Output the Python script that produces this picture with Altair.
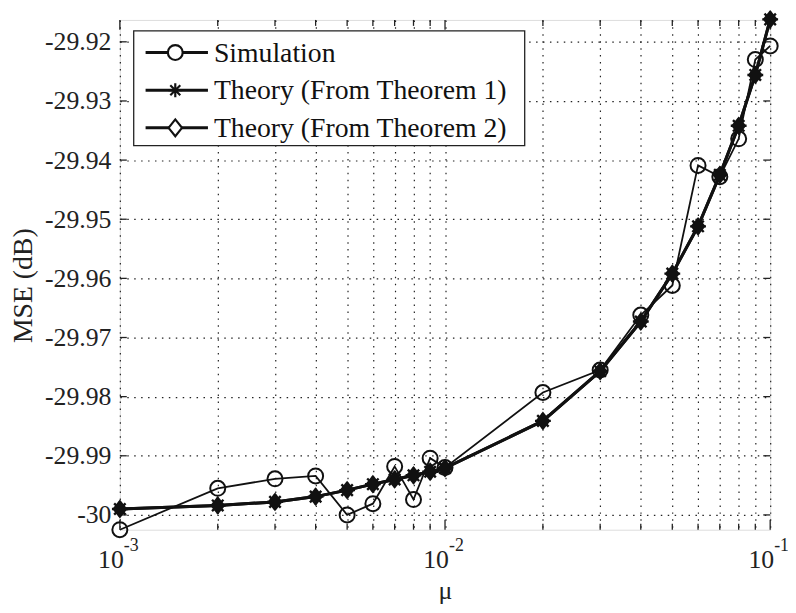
import altair as alt
import pandas as pd

mu = [0.001, 0.002, 0.003, 0.004, 0.005, 0.006, 0.007, 0.008, 0.009, 0.01,
      0.02, 0.03, 0.04, 0.05, 0.06, 0.07, 0.08, 0.09, 0.1]
sim = [-30.0025, -29.9955, -29.9939, -29.9934, -30.0000, -29.9981, -29.9918, -29.9974, -29.9904, -29.9920,
       -29.9793, -29.9755, -29.9662, -29.9612, -29.9409, -29.9428, -29.9364, -29.9230, -29.9207]
theory1 = [-29.9990, -29.9984, -29.9978, -29.9969, -29.9958, -29.9948, -29.9940, -29.9933, -29.9927, -29.9921,
           -29.9841, -29.9757, -29.9673, -29.9592, -29.9512, -29.9425, -29.9342, -29.9256, -29.9162]
theory2 = [-29.9990, -29.9984, -29.9978, -29.9969, -29.9958, -29.9948, -29.9940, -29.9933, -29.9927, -29.9921,
           -29.9841, -29.9757, -29.9673, -29.9592, -29.9512, -29.9425, -29.9342, -29.9256, -29.9162]

series_names = ["Simulation", "Theory (From Theorem 1)", "Theory (From Theorem 2)"]
x_major = [0.001, 0.01, 0.1]
x_major_exp = ["-3", "-2", "-1"]
x_minor = [k * 0.001 for k in range(2, 10)] + [k * 0.01 for k in range(2, 10)]
y_ticks = [-30.0, -29.99, -29.98, -29.97, -29.96, -29.95, -29.94, -29.93, -29.92]

W, H = 657, 515
FONT = "Liberation Serif"
XDOM = [0.001, 0.1]
YDOM = [-30.0025, -29.9163]

df = pd.DataFrame({"mu": mu, "sim": sim, "t1": theory1, "t2": theory2})
xs = alt.Scale(type="log", domain=XDOM, nice=False)
ys = alt.Scale(domain=YDOM, nice=False, zero=False)

all_x = sorted(x_major + x_minor)
grid_x_axis = alt.Axis(values=all_x, grid=True, gridDash=[1.5, 5.5], gridColor="#222",
                       gridWidth=1.2, ticks=False, labels=False, domain=False,
                       title="\u03bc", titleFont=FONT, titleFontSize=26, titleFontWeight="normal",
                       titleColor="#222", titleY=62, titleBaseline="middle")
grid_y_axis = alt.Axis(values=y_ticks, grid=True, gridDash=[1.5, 5.5], gridColor="#222",
                       gridWidth=1.2, ticks=False, domain=False, labelPadding=9,
                       labelFont=FONT, labelFontSize=26, labelColor="#222",
                       labelExpr="datum.value <= -29.9999 ? '-30' : '-' + format(-datum.value, '.2f')",
                       title="MSE (dB)", titleFont=FONT, titleFontSize=28, titleFontWeight="normal",
                       titleColor="#222", titleX=-97, titleY=268, titleAngle=-90,
                       titleBaseline="middle", titleAlign="center")

base = alt.Chart(df)

grid = base.mark_point(opacity=0).encode(
    x=alt.X("mu:Q", scale=xs, axis=grid_x_axis),
    y=alt.Y("sim:Q", scale=ys, axis=grid_y_axis),
)

# inside ticks
xt_major = alt.Chart(pd.DataFrame({"v": x_major}))
xt_minor = alt.Chart(pd.DataFrame({"v": x_minor}))
yt = alt.Chart(pd.DataFrame({"v": y_ticks}))
tick_style = dict(color="#222", strokeWidth=1.3)
ticks = [
    xt_major.mark_rule(**tick_style).encode(x=alt.X("v:Q", scale=xs), y=alt.value(H), y2=alt.value(H - 10)),
    xt_major.mark_rule(**tick_style).encode(x=alt.X("v:Q", scale=xs), y=alt.value(0), y2=alt.value(10)),
    xt_minor.mark_rule(**tick_style).encode(x=alt.X("v:Q", scale=xs), y=alt.value(H), y2=alt.value(H - 6)),
    xt_minor.mark_rule(**tick_style).encode(x=alt.X("v:Q", scale=xs), y=alt.value(0), y2=alt.value(6)),
    yt.mark_rule(**tick_style).encode(y=alt.Y("v:Q", scale=ys), x=alt.value(0), x2=alt.value(7)),
    yt.mark_rule(**tick_style).encode(y=alt.Y("v:Q", scale=ys), x=alt.value(W), x2=alt.value(W - 7)),
]

# x tick labels 10^n
xl = alt.Chart(pd.DataFrame({"v": x_major, "e": x_major_exp}))
xlabels = [
    xl.mark_text(text="10", font=FONT, fontSize=26, align="right", baseline="alphabetic",
                 dx=4, color="#222").encode(x=alt.X("v:Q", scale=xs), y=alt.value(554)),
    xl.mark_text(font=FONT, fontSize=18, align="left", baseline="alphabetic",
                 dx=4, color="#222").encode(x=alt.X("v:Q", scale=xs), y=alt.value(537), text="e:N"),
]

circle_path = "circle"
star_path = "M-1,0L1,0M0,-1L0,1M-0.72,-0.72L0.72,0.72M-0.72,0.72L0.72,-0.72"
diamond_path = "M-0.8,0L0,-1L0.8,0L0,1Z"

X = alt.X("mu:Q", scale=xs)
sim_line = base.mark_line(color="#111", strokeWidth=1.8).encode(x=X, y=alt.Y("sim:Q", scale=ys))
sim_pts = base.mark_point(shape=circle_path, size=230, filled=False, color="#111",
                          strokeWidth=2, opacity=1).encode(x=X, y=alt.Y("sim:Q", scale=ys))
t1_line = base.mark_line(color="#111", strokeWidth=3).encode(x=X, y=alt.Y("t1:Q", scale=ys))
t1_pts = base.mark_point(shape=star_path, size=256, filled=False, color="#111",
                         strokeWidth=2.4, opacity=1).encode(x=X, y=alt.Y("t1:Q", scale=ys))
t2_line = base.mark_line(color="#111", strokeWidth=3).encode(x=X, y=alt.Y("t2:Q", scale=ys))
t2_pts = base.mark_point(shape=diamond_path, size=361, filled=True, color="#111",
                         opacity=1).encode(x=X, y=alt.Y("t2:Q", scale=ys))

# legend
one = alt.Chart(pd.DataFrame({"a": [0]}))
leg_box = one.mark_rect(fill="white", stroke="#222", strokeWidth=1.3).encode(
    x=alt.value(14), x2=alt.value(409), y=alt.value(11), y2=alt.value(127))
leg_y = [33, 71, 109]
leg_shapes = [(circle_path, 225, False), (star_path, 196, False), (diamond_path, 289, False)]
legend_layers = [leg_box]
for i, name in enumerate(series_names):
    yy = leg_y[i]
    shp, sz, fl = leg_shapes[i]
    legend_layers.append(one.mark_rule(color="#111", strokeWidth=3).encode(
        x=alt.value(26), x2=alt.value(89), y=alt.value(yy)))
    legend_layers.append(one.mark_point(shape=shp, size=sz, filled=False, fill="white", color="#111",
                                        strokeWidth=2.2, opacity=1).encode(
        x=alt.value(56), y=alt.value(yy)))
    legend_layers.append(one.mark_text(text=name, font=FONT, fontSize=28, align="left",
                                       baseline="middle", color="#111").encode(
        x=alt.value(95), y=alt.value(yy + 1)))

chart = alt.layer(
    grid, *ticks, *xlabels,
    sim_line, sim_pts, t1_line, t1_pts, t2_line, t2_pts,
    *legend_layers,
).properties(
    width=W, height=H,
    autosize=alt.AutoSizeParams(type="none"),
    padding={"left": 113, "top": 9, "right": 18, "bottom": 73},
).configure_view(
    stroke="#222", strokeWidth=1.5
).configure(background="white")

chart.save("out.html", embed_options={"renderer": "svg", "actions": False})
